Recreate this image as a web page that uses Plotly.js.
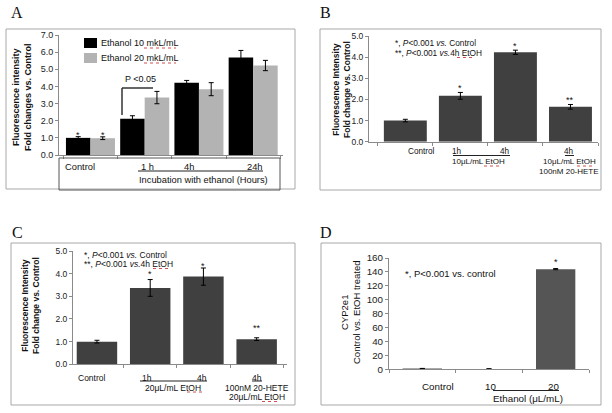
<!DOCTYPE html>
<html>
<head>
<meta charset="utf-8">
<script src="https://cdn.plot.ly/plotly-3.0.1.min.js"></script>
<style>html,body{margin:0;padding:0;background:#fff;}#chart{width:612px;height:413px;}</style>
</head>
<body>
<div id="chart"></div>
<script>
// ---------- data ----------
// Panel A
const catsA = ['Control', '1 h', '4h', '24h'];
const a10 = [1.00, 2.12, 4.21, 5.69];
const a10Err = [0.07, 0.17, 0.14, 0.41];
const a20 = [0.98, 3.35, 3.84, 5.22];
const a20Err = [0.08, 0.36, 0.38, 0.30];
const nameA10 = 'Ethanol 10 mkL/mL';
const nameA20 = 'Ethanol 20 mkL/mL';
// Panel B
const catsB = ['Control', '1h', '4h', '4h+20-HETE'];
const valsB = [1.00, 2.17, 4.23, 1.65];
const errB = [0.06, 0.16, 0.10, 0.11];
// Panel C
const catsC = ['Control', '1h', '4h', '4h+20-HETE'];
const valsC = [1.00, 3.37, 3.87, 1.11];
const errC = [0.06, 0.37, 0.38, 0.06];
// Panel D
const catsD = ['Control', '10', '20'];
const valsD = [1.0, 0.6, 144];
const errD = [0.3, 0.2, 0.8];

// ---------- helpers ----------
const W = 612, H = 413;
const px = x => x / W;
const py = y => 1 - y / H;
const FONT = 'Liberation Sans, Arial, Helvetica, sans-serif';
const SERIF = 'Liberation Serif, Times New Roman, serif';
const AX = '#8a8a8a';
const DARK = '#404040';

function errObj(arr) {
  return {type: 'data', array: arr, visible: true, color: '#000', thickness: 1, width: 2.5};
}

const traces = [
  {type: 'bar', x: catsA, y: a10, name: nameA10, xaxis: 'x', yaxis: 'y',
   marker: {color: '#000000', line: {width: 0}}, width: 0.452, offset: -0.452, error_y: errObj(a10Err)},
  {type: 'bar', x: catsA, y: a20, name: nameA20, xaxis: 'x', yaxis: 'y',
   marker: {color: '#b3b3b3', line: {width: 0}}, width: 0.452, offset: 0, error_y: errObj(a20Err)},
  {type: 'bar', x: catsB, y: valsB, xaxis: 'x2', yaxis: 'y2',
   marker: {color: DARK, line: {width: 0}}, width: 0.78, error_y: errObj(errB)},
  {type: 'bar', x: catsC, y: valsC, xaxis: 'x3', yaxis: 'y3',
   marker: {color: DARK, line: {width: 0}}, width: 0.76, error_y: errObj(errC)},
  {type: 'bar', x: catsD, y: valsD, xaxis: 'x4', yaxis: 'y4',
   marker: {color: '#555555', line: {width: 0}}, width: 0.59, error_y: errObj(errD)}
];

function xAx(d0, d1, r, anchor) {
  return {domain: [px(d0), px(d1)], anchor: anchor, type: 'category', range: r,
    showline: true, linecolor: AX, linewidth: 1, ticks: 'outside', tickson: 'boundaries',
    ticklen: 3, tickcolor: AX, showticklabels: false, showgrid: false, zeroline: false, fixedrange: true};
}
function yAx(top, bot, r, dt, fmt, fs, anchor) {
  return {domain: [py(bot), py(top)], anchor: anchor, range: r, dtick: dt, tick0: 0, tickformat: fmt,
    showline: true, linecolor: AX, linewidth: 1, ticks: 'outside', ticklen: 3, tickcolor: AX,
    tickfont: {family: FONT, size: fs, color: '#222'}, showgrid: false, zeroline: false, fixedrange: true};
}

const shapes = [];
function rect(x0, y0, x1, y1, col) {
  shapes.push({type: 'rect', xref: 'paper', yref: 'paper', x0: px(x0), x1: px(x1), y0: py(y0), y1: py(y1),
    line: {color: col || '#a8a8a8', width: 1}, fillcolor: 'rgba(0,0,0,0)'});
}
function line(x0, y0, x1, y1, col, w, dash) {
  shapes.push({type: 'line', xref: 'paper', yref: 'paper', x0: px(x0), x1: px(x1), y0: py(y0), y1: py(y1),
    line: {color: col || '#222', width: w || 1, dash: dash || 'solid'}});
}
function box(x0, y0, x1, y1, col) {
  shapes.push({type: 'rect', xref: 'paper', yref: 'paper', x0: px(x0), x1: px(x1), y0: py(y0), y1: py(y1),
    line: {width: 0}, fillcolor: col});
}
function squiggle(x0, x1, y) { line(x0, y, x1, y, '#d05050', 1, 'dot'); }

// panel frames
rect(6, 29, 295, 189);
rect(320, 29, 601, 190);
rect(11, 243, 295, 405);
rect(321, 243, 601, 405);
// A label box
rect(59, 158, 280, 190, '#555');
// A legend swatches
box(84, 38, 97, 48, '#000000');
box(84, 53, 97, 63, '#b3b3b3');
// A bracket
line(122, 88, 122, 115, '#333', 1.5);
line(122, 88, 153, 88, '#333', 1.5);
// underlines
line(138, 171, 263, 171, '#222', 1);
line(453, 155.5, 510, 155.5, '#222', 1);
line(565, 155.5, 574, 155.5, '#222', 1);
line(140, 381, 207, 381, '#222', 1);
line(252, 381, 262, 381, '#222', 1);
line(493, 390.5, 559, 390.5, '#222', 1);
// spell-check marks
squiggle(144, 176, 48);
squiggle(144, 176, 63);
squiggle(457, 473, 57.5);
squiggle(484, 500, 166);
squiggle(577, 593, 166);
squiggle(153, 169, 268.5);
squiggle(187, 202, 392);
squiggle(262, 277, 401.5);

const ann = [];
function t(x, y, text, size, opts) {
  ann.push(Object.assign({xref: 'paper', yref: 'paper', x: px(x), y: py(y), text: text, showarrow: false,
    xanchor: 'center', yanchor: 'middle', font: {family: FONT, size: size, color: '#111'}}, opts || {}));
}
function star(xa, ya, xi, yv, text, size) {
  ann.push({xref: xa, yref: ya, x: xi, y: yv, text: text, showarrow: false, xanchor: 'center', yanchor: 'middle',
    yshift: -3, font: {family: FONT, size: size, color: '#111'}});
}

// panel letters
t(17, 13, 'A', 16, {font: {family: SERIF, size: 16, color: '#111'}});
t(325, 13, 'B', 16, {font: {family: SERIF, size: 16, color: '#111'}});
t(17, 232, 'C', 16, {font: {family: SERIF, size: 16, color: '#111'}});
t(326, 232, 'D', 16, {font: {family: SERIF, size: 16, color: '#111'}});

// axis titles
t(22, 97, '<b>Fluorescence intensity<br>Fold changes vs. Control</b>', 9, {textangle: -90});
t(341, 90, '<b>Fluorescence Intensity<br>Fold change vs. Control</b>', 8.5, {textangle: -90});
t(30, 306, '<b>Fluorescence Intensity<br>Fold change vs. Control</b>', 8.5, {textangle: -90});
t(350, 313, 'CYP2e1<br>Control vs. EtOH treated', 9.5, {textangle: -90});

// Panel A texts
t(99, 43, nameA10, 9, {xanchor: 'left'});
t(99, 58, nameA20, 9, {xanchor: 'left'});
t(140, 79, 'P &lt;0.05', 9);
t(80, 167, 'Control', 9.3);
t(147, 167, '1 h', 9.3);
t(189, 167, '4h', 9.3);
t(255, 167, '24h', 9.3);
t(203, 180, 'Incubation with ethanol (Hours)', 9.3);
star('x', 'y', -0.226, 1.32, '*', 9);
star('x', 'y', 0.226, 1.32, '*', 9);

// Panel B texts
t(393, 43, '*, <i>P</i>&lt;0.001 <i>vs.</i> Control', 8.3, {xanchor: 'left'});
t(393, 53, '**, <i>P</i>&lt;0.001 <i>vs.</i>4h EtOH', 8.3, {xanchor: 'left'});
t(421, 151, 'Control', 8.2);
t(457, 151, '1h', 8.2);
t(505, 151, '4h', 8.2);
t(478, 161, '10μL/mL EtOH', 8);
t(569, 151, '4h', 8.2);
t(569, 161, '10μL/mL EtOH', 8);
t(569, 171, '100nM 20-HETE', 8);
star('x2', 'y2', 1, 2.68, '*', 9);
star('x2', 'y2', 2, 4.68, '*', 9);
star('x2', 'y2', 3, 2.13, '**', 9);

// Panel C texts
t(82, 255, '*, <i>P</i>&lt;0.001 <i>vs.</i> Control', 8.5, {xanchor: 'left'});
t(82, 264, '**, <i>P</i>&lt;0.001 <i>vs.</i>4h EtOH', 8.5, {xanchor: 'left'});
t(92, 378, 'Control', 8.5);
t(147, 378, '1h', 8.5);
t(202, 378, '4h', 8.5);
t(173, 388, '20μL/mL EtOH', 8.5);
t(257, 378, '4h', 8.5);
t(257, 388, '100nM 20-HETE', 8.5);
t(257, 397, '20μL/mL EtOH', 8.5);
star('x3', 'y3', 1, 4.12, '*', 9);
star('x3', 'y3', 2, 4.49, '*', 9);
star('x3', 'y3', 3, 1.74, '**', 9);

// Panel D texts
t(403, 273, '*, P&lt;0.001 vs. control', 9.5, {xanchor: 'left'});
t(438, 386, 'Control', 9.8);
t(490, 386, '10', 9.8);
t(553, 386, '20', 9.8);
t(528, 398, 'Ethanol (μL/mL)', 9.8);
star('x4', 'y4', 2, 158, '*', 9);

const layout = {
  width: W, height: H, margin: {l: 0, r: 0, t: 0, b: 0},
  paper_bgcolor: '#fff', plot_bgcolor: 'rgba(0,0,0,0)',
  showlegend: false, barmode: 'group',
  font: {family: FONT, size: 9, color: '#111'},
  xaxis: xAx(59, 283, [-0.58, 3.55], 'y'),
  yaxis: yAx(35, 155, [0, 7], 1, '.1f', 9, 'x'),
  xaxis2: xAx(369, 598, [-0.66, 3.5], 'y2'),
  yaxis2: yAx(36, 141.7, [0, 5], 1, '.1f', 8.5, 'x2'),
  xaxis3: xAx(73, 287, [-0.45, 3.57], 'y3'),
  yaxis3: yAx(251, 364.3, [0, 5], 1, '.1f', 8.5, 'x3'),
  xaxis4: xAx(389, 589, [-0.5, 2.5], 'y4'),
  yaxis4: yAx(258, 369.3, [0, 160], 20, 'd', 9.8, 'x4'),
  shapes: shapes,
  annotations: ann
};

Plotly.newPlot('chart', traces, layout, {displayModeBar: false, staticPlot: true});
</script>
</body>
</html>
